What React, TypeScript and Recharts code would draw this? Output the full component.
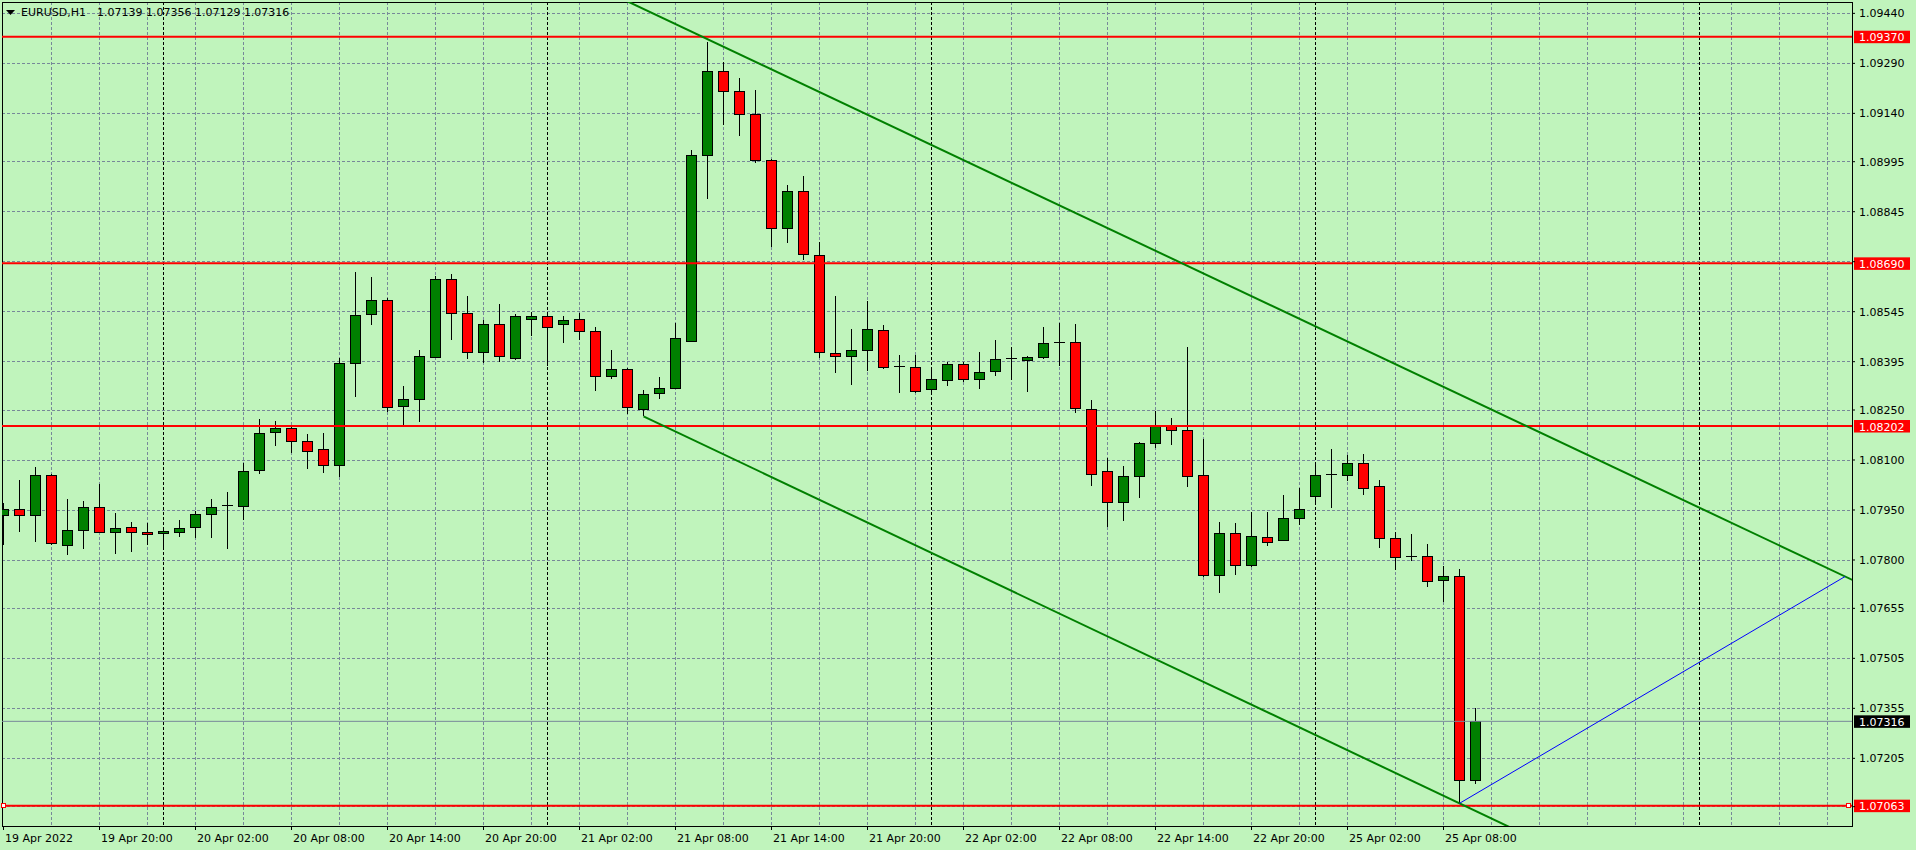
import React from 'react';
import {
  ComposedChart,
  Bar,
  XAxis,
  YAxis,
  CartesianGrid,
  ReferenceLine,
  ReferenceArea,
  ReferenceDot,
} from 'recharts';

// ---- data (EURUSD H1, bar 0 = 19 Apr 2022 14:00) ----
const opens = [
  1.07935, 1.07953, 1.07935, 1.08055, 1.07845, 1.0789, 1.07959, 1.07884, 1.07899, 1.07884,
  1.07881, 1.07884, 1.07899, 1.07938, 1.07962, 1.07962, 1.0807, 1.08184, 1.08196, 1.08157,
  1.08131, 1.08085, 1.08391, 1.08538, 1.0858, 1.08262, 1.08283, 1.08409, 1.08641, 1.08541,
  1.08424, 1.08508, 1.08406, 1.08523, 1.08532, 1.08508, 1.08523, 1.08487, 1.08352, 1.08373,
  1.08253, 1.08301, 1.08316, 1.08456, 1.09013, 1.09265, 1.09205, 1.09136, 1.08998, 1.08794,
  1.08905, 1.08713, 1.08421, 1.08412, 1.0843, 1.0849, 1.08379, 1.08379, 1.08313, 1.0834,
  1.08388, 1.08343, 1.08367, 1.08403, 1.084, 1.08409, 1.08451, 1.08454, 1.08253, 1.08067,
  1.07974, 1.08052, 1.08151, 1.08205, 1.0819, 1.08055, 1.07755, 1.07881, 1.07785, 1.07869,
  1.0786, 1.07926, 1.07992, 1.08057, 1.08055, 1.08091, 1.08022, 1.07866, 1.07809, 1.07812,
  1.0774, 1.07752, 1.07139,
];
const highs = [
  1.07971, 1.08041, 1.08079, 1.08058, 1.07984, 1.07978, 1.08029, 1.07941, 1.07914, 1.07911,
  1.079, 1.0792, 1.07947, 1.07983, 1.08004, 1.08091, 1.08223, 1.08217, 1.08198, 1.08179,
  1.08182, 1.08406, 1.08665, 1.0865, 1.08586, 1.08322, 1.0843, 1.08653, 1.08659, 1.08592,
  1.0852, 1.08568, 1.08538, 1.08544, 1.08538, 1.08532, 1.08541, 1.08499, 1.0843, 1.08376,
  1.08311, 1.08349, 1.08512, 1.09031, 1.09355, 1.09295, 1.09247, 1.09211, 1.09004, 1.08926,
  1.08953, 1.08755, 1.08592, 1.08493, 1.08577, 1.08505, 1.08415, 1.08415, 1.08376, 1.08393,
  1.08394, 1.08424, 1.0846, 1.08439, 1.08412, 1.08499, 1.08512, 1.08508, 1.08281, 1.08106,
  1.08082, 1.08154, 1.08246, 1.08226, 1.08439, 1.08163, 1.07914, 1.07911, 1.07944, 1.07945,
  1.07995, 1.08016, 1.08094, 1.08133, 1.08115, 1.08118, 1.0804, 1.07884, 1.07878, 1.07848,
  1.07782, 1.07773, 1.07356,
];
const lows = [
  1.07844, 1.07883, 1.07853, 1.07844, 1.07814, 1.07832, 1.07881, 1.07817, 1.07823, 1.07844,
  1.07829, 1.07869, 1.07866, 1.07865, 1.07832, 1.0792, 1.08057, 1.08141, 1.08121, 1.08072,
  1.0806, 1.08049, 1.08288, 1.08504, 1.08244, 1.08201, 1.08213, 1.08405, 1.0846, 1.08404,
  1.08391, 1.08394, 1.084, 1.08472, 1.08382, 1.08451, 1.0846, 1.08307, 1.08343, 1.08238,
  1.08231, 1.08282, 1.08313, 1.08453, 1.08883, 1.09105, 1.09072, 1.08992, 1.08739, 1.08752,
  1.08701, 1.08406, 1.08361, 1.08325, 1.08367, 1.08373, 1.08301, 1.08301, 1.08301, 1.08321,
  1.08334, 1.08312, 1.08351, 1.0834, 1.08303, 1.08403, 1.08381, 1.08241, 1.08021, 1.07898,
  1.07916, 1.07985, 1.08135, 1.08145, 1.08018, 1.07749, 1.07701, 1.07755, 1.07779, 1.07842,
  1.07857, 1.07904, 1.07968, 1.07955, 1.08036, 1.07995, 1.07836, 1.0777, 1.07797, 1.07719,
  1.07674, 1.0707, 1.07129,
];
const closes = [
  1.07953, 1.07935, 1.08055, 1.0785, 1.0789, 1.07959, 1.07884, 1.07896, 1.07884, 1.07878,
  1.07887, 1.07896, 1.07938, 1.07959, 1.07965, 1.08067, 1.08181, 1.08196, 1.08156, 1.08127,
  1.08085, 1.08391, 1.08535, 1.0858, 1.08259, 1.08283, 1.08412, 1.08641, 1.08541, 1.08424,
  1.08508, 1.08412, 1.08532, 1.08532, 1.08499, 1.0852, 1.08487, 1.08352, 1.08373, 1.08258,
  1.08298, 1.08316, 1.08466, 1.09013, 1.09265, 1.09205, 1.09136, 1.08998, 1.08794, 1.08905,
  1.08716, 1.08424, 1.08412, 1.0843, 1.08493, 1.08379, 1.0838, 1.08307, 1.08343, 1.08388,
  1.08343, 1.08364, 1.08403, 1.08404, 1.08409, 1.08451, 1.08454, 1.08256, 1.08058, 1.07974,
  1.08052, 1.08151, 1.08205, 1.0819, 1.08052, 1.07755, 1.07881, 1.07785, 1.07872, 1.07854,
  1.07926, 1.07953, 1.08055, 1.08058, 1.08091, 1.08016, 1.07866, 1.07809, 1.0781, 1.07737,
  1.07752, 1.0714, 1.07316,
];

// x axis: bar index, labels every 6 bars
const xTickIdx = [0, 6, 12, 18, 24, 30, 36, 42, 48, 54, 60, 66, 72, 78, 84, 90];
const xTickLabels = [
  '19 Apr 2022', '19 Apr 20:00', '20 Apr 02:00', '20 Apr 08:00', '20 Apr 14:00',
  '20 Apr 20:00', '21 Apr 02:00', '21 Apr 08:00', '21 Apr 14:00', '21 Apr 20:00',
  '22 Apr 02:00', '22 Apr 08:00', '22 Apr 14:00', '22 Apr 20:00', '25 Apr 02:00',
  '25 Apr 08:00',
];
const xDomain = [-0.09375, 115.53125];
const gridIdx = [
  3, 6, 9, 12, 15, 18, 21, 24, 27, 30, 33, 36, 39, 42, 45, 48, 51, 54, 57, 60, 63, 66, 69,
  72, 75, 78, 81, 84, 87, 90, 93, 96, 99, 102, 105, 108, 111, 114,
];
const daySeparatorIdx = [10, 34, 58, 82, 106];

// y axis
const yDomain = [1.07002, 1.094741];
const yTicks = [
  1.0944, 1.0929, 1.0914, 1.08995, 1.08845, 1.08695, 1.08545, 1.08395, 1.0825, 1.081,
  1.0795, 1.078, 1.07655, 1.07505, 1.07355, 1.07205, 1.0706,
];
const hiddenYTicks = [1.08695, 1.0706];

// objects
const levelLines = [1.0937, 1.0869, 1.08202, 1.07063];
const bidPrice = 1.07316;
const upperTrend = [
  { x: 38, y: 1.094986 },
  { x: 116, y: 1.077301 },
];
const lowerTrend = [
  { x: 40, y: 1.08231 },
  { x: 120, y: 1.064098 },
];
const blueLine = [
  { x: 91, y: 1.0707 },
  { x: 115.1, y: 1.077505 },
];
const anchorIdx = [0.03, 115.34];

const BG = '#C0F4BC';
const GRID = '#778899';
const FONT = 'DejaVu Sans';

const data = opens.map((o, i) => ({
  i,
  open: o,
  high: highs[i],
  low: lows[i],
  close: closes[i],
}));

const Candle = (props: any) => {
  const { x, y, width, height, payload } = props;
  if (!payload || y == null || height == null) return null;
  const top = Math.min(y, y + height);
  const bot = Math.max(y, y + height);
  const { open, high, low, close } = payload;
  const span = high - low || 1;
  const py = (p: number) => top + ((high - p) / span) * (bot - top);
  const cx = x + width / 2;
  const yo = py(open);
  const yc = py(close);
  const bt = Math.min(yo, yc);
  const bb = Math.max(yo, yc);
  const up = close >= open;
  return (
    <g shapeRendering="crispEdges">
      <line x1={cx} x2={cx} y1={top} y2={bot} stroke="#000" strokeWidth={1} />
      {bb - bt < 1 ? (
        <line x1={cx - 5.5} x2={cx + 5.5} y1={bt} y2={bt} stroke="#000" strokeWidth={1} />
      ) : (
        <rect
          x={cx - 5}
          y={bt}
          width={10}
          height={bb - bt}
          fill={up ? '#008000' : '#FF0000'}
          stroke="#000"
          strokeWidth={1}
        />
      )}
    </g>
  );
};

const YTick = (props: any) => {
  const { x, y, payload } = props;
  if (hiddenYTicks.includes(payload.value)) return null;
  return (
    <text x={x} y={y} dy={4} fill="#000" fontSize={11} fontFamily={FONT} textAnchor="start">
      {Number(payload.value).toFixed(5)}
    </text>
  );
};

const XTick = (props: any) => {
  const { x, y, payload } = props;
  const k = xTickIdx.indexOf(payload.value);
  return (
    <text x={x + 1.5} y={y} dy={10} fill="#000" fontSize={11} fontFamily={FONT} textAnchor="start">
      {k >= 0 ? xTickLabels[k] : ''}
    </text>
  );
};

const PriceTag = (props: any) => {
  const { viewBox, text, bg } = props;
  if (!viewBox) return null;
  const x = viewBox.x + viewBox.width + 2;
  const y = viewBox.y;
  return (
    <g>
      <rect x={x} y={y - 6} width={56} height={12.5} fill={bg} />
      <text x={x + 5} y={y + 4.5} fill="#FFFFFF" fontSize={11} fontFamily={FONT}>
        {text}
      </text>
    </g>
  );
};

const Anchor = (props: any) => {
  const { cx, cy } = props;
  if (cx == null || cy == null) return null;
  return (
    <rect
      x={cx - 2}
      y={cy - 2}
      width={4}
      height={4}
      fill="#FFFFFF"
      stroke="#FF0000"
      strokeWidth={1}
      shapeRendering="crispEdges"
    />
  );
};

export default function App() {
  const last = data.length - 1;
  return (
    <div
      style={{
        position: 'absolute',
        left: 0,
        top: 0,
        width: 1916,
        height: 850,
        background: BG,
        overflow: 'hidden',
      }}
    >
      <ComposedChart
        width={1916}
        height={850}
        data={data}
        margin={{ top: 2, right: 0, bottom: 0, left: 2 }}
      >
        <CartesianGrid
          stroke={GRID}
          strokeDasharray="3 2"
          horizontalValues={yTicks}
          verticalValues={gridIdx}
          shapeRendering="crispEdges"
        />
        <CartesianGrid
          stroke="#000"
          strokeDasharray="3 2"
          horizontal={false}
          verticalValues={daySeparatorIdx}
          shapeRendering="crispEdges"
        />
        <XAxis
          type="number"
          dataKey="i"
          domain={xDomain}
          allowDataOverflow
          ticks={xTickIdx}
          interval={0}
          tick={<XTick />}
          tickSize={4}
          tickMargin={2}
          tickLine={{ stroke: '#000' }}
          axisLine={false}
          height={24}
        />
        <YAxis
          orientation="right"
          type="number"
          domain={yDomain}
          allowDataOverflow
          ticks={yTicks}
          interval={0}
          tick={<YTick />}
          tickSize={3}
          tickMargin={4}
          tickLine={{ stroke: '#000' }}
          axisLine={false}
          width={64}
        />
        <Bar
          dataKey={(d: any) => [d.low, d.high]}
          barSize={10}
          shape={<Candle />}
          isAnimationActive={false}
        />
        <ReferenceLine
          y={bidPrice}
          stroke={GRID}
          strokeWidth={1}
          label={(p: any) => <PriceTag {...p} text={bidPrice.toFixed(5)} bg="#000000" />}
        />
        {levelLines.map((v) => (
          <ReferenceLine
            key={v}
            y={v}
            stroke="#FF0000"
            strokeWidth={2}
            label={(p: any) => <PriceTag {...p} text={v.toFixed(5)} bg="#FF0000" />}
          />
        ))}
        <ReferenceLine segment={upperTrend} stroke="#008000" strokeWidth={2} ifOverflow="hidden" />
        <ReferenceLine segment={lowerTrend} stroke="#008000" strokeWidth={2} ifOverflow="hidden" />
        <ReferenceLine segment={blueLine} stroke="#0000FF" strokeWidth={1} ifOverflow="hidden" />
        {anchorIdx.map((a) => (
          <ReferenceDot key={a} x={a} y={levelLines[3]} shape={<Anchor />} />
        ))}
        <ReferenceArea
          x1={xDomain[0]}
          x2={xDomain[1]}
          y1={yDomain[0]}
          y2={yDomain[1]}
          fill="none"
          fillOpacity={0}
          stroke="#000"
          strokeWidth={1}
          shapeRendering="crispEdges"
        />
      </ComposedChart>
      <div
        style={{
          position: 'absolute',
          left: 6,
          top: 6,
          height: 13,
          display: 'flex',
          alignItems: 'center',
          fontFamily: FONT,
          fontSize: 11,
          lineHeight: '13px',
          color: '#000',
          whiteSpace: 'pre',
        }}
      >
        <svg width={9} height={5} style={{ display: 'block' }}>
          <polygon points="0,0 9,0 4.5,5" fill="#000" />
        </svg>
        <span style={{ marginLeft: 6 }}>EURUSD,H1</span>
        <span style={{ marginLeft: 11 }}>
          {`${opens[last].toFixed(5)} ${highs[last].toFixed(5)} ${lows[last].toFixed(5)} ${closes[last].toFixed(5)}`}
        </span>
      </div>
    </div>
  );
}
